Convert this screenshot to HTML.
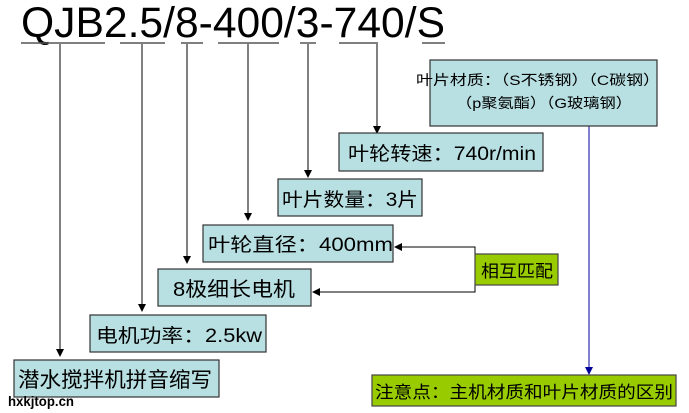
<!DOCTYPE html>
<html><head><meta charset="utf-8"><style>
html,body{margin:0;padding:0;background:#fff;width:689px;height:413px;overflow:hidden}
svg{display:block}
text{font-family:"Liberation Sans","Noto Sans CJK SC",sans-serif;fill:#000}
</style></head><body>
<svg width="689" height="413" viewBox="0 0 689 413" xmlns="http://www.w3.org/2000/svg">
<text x="21" y="37" font-size="43" textLength="424" lengthAdjust="spacingAndGlyphs">QJB2.5/8-400/3-740/S</text>
<g stroke="#555" stroke-width="1.5">
<line x1="21" y1="43" x2="105" y2="43"/><line x1="120" y1="43" x2="165" y2="43"/><line x1="181" y1="43" x2="203" y2="43"/><line x1="218" y1="43" x2="279" y2="43"/><line x1="300" y1="43" x2="316" y2="43"/><line x1="339" y1="43" x2="378" y2="43"/><line x1="422" y1="43" x2="445" y2="43"/>
</g>
<g stroke="#000" stroke-width="1" fill="none">
<line x1="60" y1="44" x2="60" y2="350"/>
<line x1="142" y1="44" x2="142" y2="305"/>
<line x1="187" y1="44" x2="187" y2="257"/>
<line x1="248" y1="44" x2="248" y2="214"/>
<line x1="308" y1="44" x2="308" y2="171"/>
<line x1="377" y1="44" x2="377" y2="127"/>
<polyline points="475,254 475,247 400,247"/>
<polyline points="475,285 475,292 318,292"/>
</g>
<g fill="#000">
<polygon points="56,349 64,349 60,357"/>
<polygon points="138,304 146,304 142,312"/>
<polygon points="183,256 191,256 187,264"/>
<polygon points="244,213 252,213 248,221"/>
<polygon points="304,170 312,170 308,178"/>
<polygon points="373,126 381,126 377,134"/>
<polygon points="394,247 402,243 402,251"/>
<polygon points="312,292 320,288 320,296"/>
</g>
<line x1="589" y1="126" x2="589" y2="368" stroke="#000099" stroke-width="1"/>
<polygon points="585,367 593,367 589,375" fill="#000099"/>
<g fill="#b8dfe2" stroke="#333" stroke-width="1.2">
<rect x="430" y="60" width="227" height="66"/>
<rect x="339" y="133" width="204" height="38"/>
<rect x="278" y="179" width="144" height="37"/>
<rect x="203" y="225" width="190" height="37"/>
<rect x="158" y="269" width="153" height="37"/>
<rect x="90" y="315" width="176" height="37"/>
<rect x="14" y="360" width="205" height="37"/>
</g>
<g fill="#99cc00" stroke="#444" stroke-width="1.2">
<rect x="475" y="254" width="83" height="31"/>
<rect x="372" y="375" width="304" height="31"/>
</g>
<text x="416" y="85" font-size="14" fill="#333" textLength="244" lengthAdjust="spacingAndGlyphs">叶片材质：（S不锈钢）（C碳钢）</text>
<text x="456" y="108" font-size="14" fill="#333" textLength="176" lengthAdjust="spacingAndGlyphs">（p聚氨酯）（G玻璃钢）</text>
<text x="348" y="160" font-size="19" textLength="188" lengthAdjust="spacingAndGlyphs">叶轮转速：740r/min</text>
<text x="282" y="206" font-size="19" textLength="136" lengthAdjust="spacingAndGlyphs">叶片数量：3片</text>
<text x="208" y="251" font-size="19" textLength="185" lengthAdjust="spacingAndGlyphs">叶轮直径：400mm</text>
<text x="173" y="296" font-size="20" textLength="122" lengthAdjust="spacingAndGlyphs">8极细长电机</text>
<text x="96" y="342" font-size="19" textLength="166" lengthAdjust="spacingAndGlyphs">电机功率：2.5kw</text>
<text x="18" y="387" font-size="21" textLength="194" lengthAdjust="spacingAndGlyphs">潜水搅拌机拼音缩写</text>
<text x="481" y="277" font-size="17" textLength="72" lengthAdjust="spacingAndGlyphs">相互匹配</text>
<text x="375" y="398" font-size="17" textLength="298" lengthAdjust="spacingAndGlyphs">注意点：主机材质和叶片材质的区别</text>
<text x="8" y="406" font-size="14" font-weight="bold" font-family="Liberation Mono,monospace" textLength="66" lengthAdjust="spacingAndGlyphs">hxkjtop.cn</text>
</svg>
</body></html>
